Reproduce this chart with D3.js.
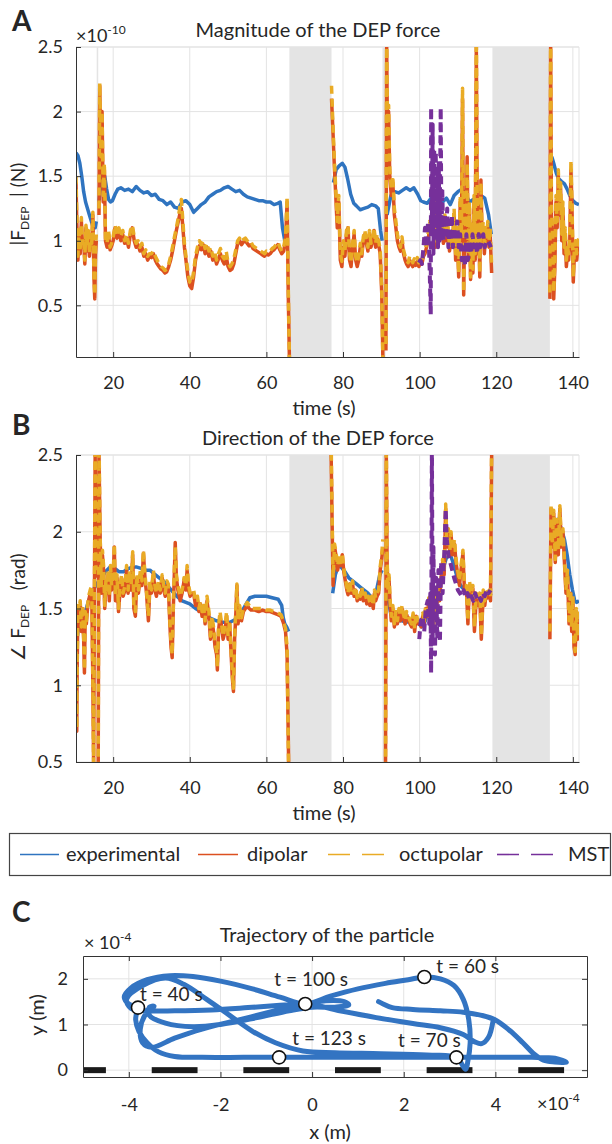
<!DOCTYPE html>
<html>
<head>
<meta charset="utf-8">
<script src="https://cdn.jsdelivr.net/npm/d3@7"></script>
<style>
  body { margin: 0; background: #fff; }
  svg text { font-family: Lato, "Open Sans", sans-serif; fill: #262626; }
</style>
</head>
<body>
<svg id="fig" width="612" height="1144"></svg>
<script>
// ---------------- data ----------------
const timeTicks = [20, 40, 60, 80, 100, 120, 140];
const magTicks = [0.5, 1, 1.5, 2, 2.5];
const dirTicks = [0.5, 1, 1.5, 2, 2.5];
// grey bands = time windows without force estimate
const bandStart = [15.7, 66, 90.3, 119];
const bandEnd = [16.1, 77, 91.1, 134];

const seriesNames = ["experimental", "dipolar", "octupolar", "MST"];
const seriesColors = ["#2f74c0", "#dc5020", "#e9ab25", "#76309a"];

// panel A, |F_DEP| in units of 1e-10 N (null = gap)
const tExpA = [10.3, 10.8, 11.3, 11.8, 12.3, 12.8, 13.3, 13.8, 14.3, 14.8,
  15.3, 15.6, 15.9, 16.3, 16.8, 17.3, 17.8, 18.3, 18.8, 19.3,
  19.8, 20.5, 21.2, 22, 23, 24, 25, 26, 27, 28,
  29, 30, 31, 32, 33, 34, 35, 36, 37, 38,
  39, 40, 41, 42, 43, 44, 45, 46, 47, 48,
  49, 50, 51, 52, 53, 54, 55, 56, 57, 58,
  59, 60, 61, 62, 63, 63.6, 64.2, 64.8, 65.5, 70,
  77.5, 78.2, 79, 79.8, 80.5, 81.2, 82, 82.8, 83.5, 84.5,
  85.5, 86.5, 87.5, 88.5, 89.2, 89.8, 90.2, 90.8, 91.5, 92.5,
  93.5, 94.5, 95.5, 96.5, 97.5, 98.5, 99.5, 100.3, 101, 102,
  103, 104, 105, 106, 107, 108, 109, 110, 111, 112,
  113, 114, 115, 116, 117, 118, 118.7, 125, 134.5, 135,
  135.7, 136.3, 137, 137.8, 138.5, 139.2, 140, 140.8, 141.6];
const expA = [1.68, 1.66, 1.6, 1.5, 1.38, 1.3, 1.25, 1.2, 1.15, 1.1,
  1.1, 1.15, null, 1.3, 1.45, 1.52, 1.5, 1.4, 1.32, 1.3,
  1.31, 1.36, 1.4, 1.41, 1.39, 1.4, 1.38, 1.42, 1.39, 1.37,
  1.38, 1.35, 1.36, 1.32, 1.31, 1.28, 1.3, 1.26, 1.25, 1.3,
  1.31, 1.28, 1.22, 1.25, 1.28, 1.3, 1.34, 1.36, 1.38, 1.39,
  1.41, 1.42, 1.4, 1.38, 1.39, 1.36, 1.34, 1.33, 1.32, 1.31,
  1.31, 1.3, 1.3, 1.28, 1.29, 1.3, 1.1, 1.0, 0.95, null,
  1.45, 1.55, 1.58, 1.6, 1.57, 1.48, 1.36, 1.29, 1.27, 1.24,
  1.25, 1.26, 1.28, 1.27, 1.25, 1.08, 1.0, null, 1.2, 1.35,
  1.38, 1.37, 1.39, 1.41, 1.39, 1.41, 1.36, 1.31, 1.3, 1.29,
  1.33, 1.38, 1.35, 1.3, 1.33, 1.28, 1.35, 1.38, 1.4, 1.36,
  1.3, 1.32, 1.26, 1.35, 1.33, 1.2, 1.05, null, 1.65, 1.6,
  1.52, 1.48, 1.46, 1.44, 1.4, 1.35, 1.31, 1.29, 1.28];

const tA = [10.3, 10.5, 10.8, 11.1, 11.4, 11.7, 12.0, 12.3, 12.6, 12.9,
  13.2, 13.5, 13.8, 14.1, 14.4, 14.7, 15.0, 15.2, 15.4, 15.6,
  15.9, 16.3, 16.5, 16.8, 17.1, 17.4, 17.7, 18.0, 18.4, 18.8,
  19.2, 19.6, 20.0, 20.5, 21.0, 21.5, 22.0, 22.5, 23.0, 23.5,
  24.0, 24.5, 25.0, 25.5, 26.0, 26.5, 27.0, 27.5, 28.0, 28.5,
  29, 29.5, 30, 30.5, 31, 31.5, 32, 32.5, 33, 33.5,
  34, 34.5, 35, 35.5, 36, 36.5, 37, 37.5, 37.8, 38.2,
  38.6, 39, 39.5, 40, 40.5, 41, 41.5, 42, 42.5, 43,
  43.5, 44, 44.5, 45, 45.5, 46, 46.5, 47, 47.5, 48,
  48.5, 49, 49.5, 50, 50.5, 51, 51.5, 52, 52.5, 53,
  53.5, 54, 54.5, 55, 55.5, 56, 56.5, 57, 57.5, 58,
  58.5, 59, 59.5, 60, 60.5, 61, 61.5, 62, 62.5, 63,
  63.5, 64, 64.5, 65, 65.4, 65.7, 66, 70, 77, 77.3,
  77.7, 78.1, 78.5, 78.9, 79.3, 79.7, 80.1, 80.5, 80.9, 81.3,
  81.7, 82.1, 82.5, 82.9, 83.3, 83.7, 84.1, 84.5, 84.9, 85.3,
  85.7, 86.1, 86.5, 86.9, 87.3, 87.7, 88.1, 88.5, 88.9, 89.3,
  89.7, 90.1, 90.4, 90.8, 91.2, 91.4, 91.6, 91.9, 92.2, 92.6,
  93, 93.4, 93.8, 94.2, 94.6, 95, 95.4, 95.8, 96.2, 96.6,
  97, 97.4, 97.8, 98.2, 98.6, 99, 99.4, 99.8, 100.2, 100.6,
  101, 101.4, 101.8, 102.2, 102.6, 103, 103.4, 103.8, 104.2, 104.6,
  105, 105.4, 105.8, 106.2, 106.6, 107, 107.4, 107.8, 108.2, 108.6,
  109, 109.4, 109.8, 110.2, 110.6, 110.9, 111.2, 111.5, 111.8, 112.1,
  112.4, 112.7, 113, 113.3, 113.6, 113.9, 114.2, 114.5, 114.8, 115.1,
  115.4, 115.7, 116, 116.3, 116.6, 116.9, 117.2, 117.5, 117.8, 118.1,
  118.4, 118.8, 125, 134, 134.2, 134.4, 134.7, 135, 135.3, 135.6,
  135.9, 136.2, 136.5, 136.8, 137.1, 137.4, 137.7, 138, 138.3, 138.6,
  138.9, 139.2, 139.5, 139.8, 140.1, 140.4, 140.7, 141, 141.3, 141.6];
const dipA = [1.45, 1.15, 0.85, 1.05, 0.9, 1.15, 0.95, 1.0, 0.82, 1.1,
  0.92, 1.05, 0.88, 1.02, 0.95, 1.2, 0.7, 0.55, 0.9, 1.0,
  null, 1.2, 2.2, 1.6, 2.0, 1.3, 1.55, 1.0, 0.95, 1.05,
  0.93, 0.96, 1.0, 1.1, 1.02, 1.08, 1.0, 1.05, 0.98, 1.02,
  0.95, 1.05, 1.1, 1.0, 0.95, 0.97, 0.92, 0.95, 0.88, 0.9,
  0.85, 0.88, 0.87, 0.9, 0.85, 0.82, 0.8, 0.78, 0.77, 0.75,
  0.76, 0.8, 0.85, 0.92, 1.0, 1.08, 1.15, 1.22, 1.25, 1.1,
  0.95, 0.85, 0.72, 0.65, 0.63, 0.72, 0.85, 0.92, 0.96, 0.93,
  0.97, 0.9, 0.95, 0.88, 0.92, 0.85, 0.88, 0.82, 0.86, 0.9,
  0.85, 0.82, 0.88, 0.8, 0.77, 0.78, 0.82, 0.9, 0.98, 1.0,
  0.97, 0.99, 1.0, 0.98, 0.96, 0.97, 0.94, 0.93, 0.92, 0.91,
  0.9, 0.89, 0.88, 0.9, 0.89, 0.9, 0.92, 0.93, 0.95, 0.97,
  0.93, 0.9, 0.92, 1.0, 1.3, 0.6, 0.1, null, 2.1, 1.9,
  1.6, 1.35, 1.1, 1.3, 0.85, 0.8, 0.95, 0.88, 1.05, 1.1,
  0.85, 0.8, 0.95, 1.05, 0.85, 0.8, 0.85, 0.95, 0.88, 1.0,
  1.05, 0.98, 0.92, 1.05, 0.95, 1.0, 1.08, 0.95, 1.02, 0.97,
  0.9, 0.6, 0.1, null, 0.15, 2.5, 1.8, 2.0, 1.5, 1.35,
  1.45, 1.2, 1.1, 1.0, 0.95, 0.92, 1.0, 0.9, 0.85, 0.82,
  0.8, 0.85, 0.82, 0.8, 0.83, 0.81, 0.84, 0.8, 0.83, 0.82,
  0.88, 0.9, 0.95, 1.0, 1.1, 1.05, 1.2, 1.0, 0.95, 1.3,
  1.2, 1.05, 1.1, 0.98, 1.15, 1.0, 1.08, 0.92, 1.0, 0.95,
  1.2, 0.85, 1.05, 0.72, 1.3, 1.0, 2.1, 0.58, 1.2, 1.0,
  1.65, 0.85, 1.25, 0.7, 1.1, 0.75, 1.3, 0.85, 2.5, 0.9,
  1.15, 0.72, 1.47, 1.0, 1.1, 0.9, 1.05, 1.0, 1.1, 0.95,
  1.05, 0.75, null, 0.55, 2.5, 1.2, 1.0, 0.55, 0.8, 1.3,
  1.1, 1.5, 1.2, 1.4, 1.0, 1.25, 0.9, 1.05, 0.8, 0.9,
  0.85, 1.0, 1.55, 1.2, 0.68, 0.9, 0.95, 0.85, 0.95, 1.0];
const octA = [1.5, 1.2, 0.88, 1.08, 0.92, 1.18, 0.98, 1.02, 0.85, 1.12,
  0.95, 1.08, 0.9, 1.05, 0.98, 1.22, 0.72, 0.58, 0.95, 1.05,
  null, 1.25, 2.22, 1.65, 2.0, 1.35, 1.6, 1.02, 0.98, 1.08,
  0.95, 0.98, 1.03, 1.12, 1.05, 1.1, 1.03, 1.08, 1.0, 1.05,
  0.98, 1.08, 1.12, 1.03, 0.98, 1.0, 0.95, 0.98, 0.9, 0.93,
  0.88, 0.9, 0.9, 0.92, 0.88, 0.85, 0.82, 0.8, 0.79, 0.77,
  0.78, 0.82, 0.88, 0.95, 1.03, 1.1, 1.18, 1.28, 1.32, 1.15,
  0.98, 0.88, 0.76, 0.68, 0.67, 0.76, 0.88, 0.95, 1.0, 0.97,
  1.0, 0.94, 0.98, 0.92, 0.95, 0.88, 0.92, 0.85, 0.9, 0.94,
  0.88, 0.86, 0.92, 0.83, 0.8, 0.82, 0.86, 0.93, 1.0, 1.02,
  0.99, 1.01, 1.02, 1.0, 0.98, 0.99, 0.96, 0.95, 0.94, 0.93,
  0.92, 0.91, 0.9, 0.92, 0.91, 0.92, 0.94, 0.95, 0.97, 0.99,
  0.95, 0.92, 0.95, 1.03, 1.34, 0.65, 0.1, null, 2.2, 1.95,
  1.65, 1.4, 1.15, 1.35, 0.9, 0.84, 1.0, 0.92, 1.08, 1.12,
  0.9, 0.83, 0.98, 1.08, 0.88, 0.83, 0.88, 0.98, 0.9, 1.03,
  1.08, 1.0, 0.95, 1.08, 0.98, 1.03, 1.1, 0.98, 1.05, 1.0,
  0.93, 0.65, 0.1, null, 0.2, 2.6, 1.85, 2.05, 1.55, 1.4,
  1.5, 1.25, 1.15, 1.05, 0.98, 0.95, 1.03, 0.93, 0.88, 0.85,
  0.83, 0.88, 0.85, 0.83, 0.86, 0.84, 0.87, 0.83, 0.86, 0.85,
  0.9, 0.93, 0.98, 1.05, 1.15, 1.1, 1.25, 1.05, 1.0, 1.35,
  1.25, 1.1, 1.15, 1.02, 1.2, 1.05, 1.12, 0.95, 1.05, 1.0,
  1.25, 0.9, 1.1, 0.75, 1.35, 1.05, 2.18, 0.6, 1.25, 1.05,
  1.6, 0.9, 1.3, 0.72, 1.15, 0.78, 1.35, 0.9, 2.6, 0.95,
  1.2, 0.75, 1.45, 1.05, 1.15, 0.93, 1.1, 1.03, 1.15, 1.0,
  1.1, 0.8, null, 0.6, 2.6, 1.25, 1.05, 0.6, 0.85, 1.35,
  1.15, 1.55, 1.25, 1.45, 1.05, 1.3, 0.95, 1.1, 0.85, 0.95,
  0.9, 1.05, 1.62, 1.25, 0.72, 0.95, 1.0, 0.9, 1.0, 1.02];

const tMstA = [99.8, 100.2, 100.6, 101, 101.4, 101.8, 102.2, 102.6, 102.9, 103.0,
  103.2, 103.4, 103.6, 103.8, 104.0, 104.2, 104.4, 104.6, 104.8, 105.0,
  105.2, 105.5, 105.7, 105.9, 106.2, 106.6, 106.9, 107.2, 107.5, 107.8,
  108.1, 108.4, 108.7, 109, 109.4, 109.8, 110.2, 110.6, 111, 111.4,
  111.8, 112.2, 112.6, 113, 113.4, 113.8, 114.2, 114.6, 115, 115.4,
  115.8, 116.2, 116.6, 117, 117.4, 117.8, 118.2, 118.6];
const mstA = [0.83, 0.85, 0.82, 0.95, 1.1, 0.95, 1.15, 0.8, 0.43, 2.03,
  1.1, 1.9, 0.9, 1.7, 1.0, 1.69, 1.1, 1.5, 0.95, 1.6,
  1.0, 2.03, 1.0, 1.4, 1.0, 1.2, 1.05, 1.25, 0.95, 1.15,
  1.0, 1.2, 0.95, 1.1, 1.0, 1.15, 0.95, 1.05, 0.85, 0.95,
  0.8, 1.05, 0.85, 1.0, 0.9, 1.05, 0.95, 1.0, 0.9, 1.05,
  0.95, 1.0, 1.05, 0.95, 1.0, 1.0, 0.98, 0.95];

// panel B, direction of F_DEP in rad
const tExpB = [10.3, 10.7, 11.2, 11.8, 12.5, 13.2, 14, 15, 16, 17,
  18, 19.2, 20.5, 21.5, 22.7, 24, 25, 26.2, 27.5, 28.5,
  29.6, 31, 32, 33.1, 34.5, 35.5, 36.6, 38, 40, 41.5,
  43.5, 45, 47, 48.5, 50.5, 52, 53.1, 54.5, 55.7, 57,
  58.5, 60, 61.5, 63.1, 64, 64.4, 64.8, 65.3, 65.8, 70,
  77.3, 78, 78.8, 79.5, 80.5, 81.5, 82.5, 83.5, 84.5, 85.5,
  86.5, 87.5, 88.3, 89, 89.6, 90.2, 90.8, 91.5, 92.5, 93.5,
  94.5, 95.5, 96.5, 97.5, 98.5, 99.5, 100.5, 101.5, 102.5, 103.3,
  104, 104.6, 105.3, 106, 107, 108, 109, 110, 111, 112,
  113, 114, 115, 116, 117, 118, 118.7, 125, 134.3, 135,
  136, 137, 137.8, 138.5, 139.2, 139.9, 140.5, 141, 141.6];
const expB = [1.25, 1.33, 1.42, 1.47, 1.45, 1.52, 1.58, 1.63, 1.67, 1.7,
  1.74, 1.77, 1.76, 1.74, 1.74, 1.76, 1.77, 1.77, 1.76, 1.75,
  1.75, 1.72, 1.7, 1.68, 1.64, 1.61, 1.58, 1.55, 1.53, 1.5,
  1.47, 1.44, 1.42, 1.41, 1.41, 1.43, 1.46, 1.52, 1.57, 1.58,
  1.58, 1.58, 1.57, 1.56, 1.52, 1.44, 1.4, 1.38, 1.35, null,
  1.6, 1.72, 1.78, 1.77, 1.74, 1.7, 1.68, 1.66, 1.64, 1.62,
  1.6, 1.57, 1.56, 1.65, 1.72, 1.75, null, 1.6, 1.46, 1.43,
  1.42, 1.42, 1.41, 1.42, 1.42, 1.41, 1.38, 1.42, 1.52, 1.62,
  1.58, 1.55, 1.65, 1.75, 1.83, 1.85, 1.78, 1.68, 1.64, 1.62,
  1.6, 1.58, 1.56, 1.55, 1.56, 1.58, 1.6, null, 1.95, 2.05,
  2.08, 2.02, 1.95, 1.85, 1.72, 1.62, 1.55, 1.54, 1.55];

const tB = [10.3, 10.4, 10.5, 10.6, 10.8, 11.1, 11.4, 11.7, 12.0, 12.3,
  12.5, 12.7, 13.0, 13.3, 13.6, 14.0, 14.4, 14.7, 14.9, 15.1,
  15.3, 15.5, 15.8, 16.1, 16.3, 16.6, 16.9, 17.2, 17.5, 17.8,
  18.1, 18.4, 18.7, 19.0, 19.3, 19.6, 20.0, 20.3, 20.6, 21.0,
  21.4, 21.8, 22.2, 22.6, 23.1, 23.5, 23.9, 24.3, 24.7, 25.1,
  25.4, 25.8, 26.2, 26.6, 27.1, 27.5, 27.9, 28.3, 28.7, 29.2,
  29.6, 30.0, 30.5, 30.9, 31.3, 31.8, 32.3, 32.8, 33.2, 33.6,
  34.0, 34.4, 34.8, 35.1, 35.4, 35.7, 36.0, 36.2, 36.5, 36.9,
  37.5, 38.0, 38.5, 39.0, 39.3, 39.7, 40.1, 40.5, 41.0, 41.5,
  42.0, 42.4, 42.8, 43.2, 43.6, 44.0, 44.5, 45.0, 45.4, 45.8,
  46.2, 46.6, 47.0, 47.2, 47.5, 47.9, 48.3, 48.7, 49.2, 49.6,
  50.0, 50.4, 50.8, 51.1, 51.4, 51.7, 52.0, 52.3, 52.6, 53.0,
  53.5, 54.0, 54.5, 55.0, 55.5, 56.0, 57.0, 58.0, 59.0, 60.0,
  61.0, 62.0, 63.0, 63.8, 64.4, 65.0, 65.4, 65.8, 70, 76.9,
  77.1, 77.4, 77.8, 78.2, 78.6, 79.0, 79.4, 79.8, 80.2, 80.6,
  81.0, 81.3, 81.7, 82.1, 82.5, 82.9, 83.3, 83.7, 84.1, 84.5,
  84.9, 85.3, 85.8, 86.2, 86.6, 87.0, 87.5, 87.9, 88.2, 88.5,
  88.9, 89.3, 89.7, 90.1, 90.4, 90.8, 91.1, 91.3, 91.5, 91.7,
  92.0, 92.3, 92.6, 93.0, 93.4, 93.8, 94.2, 94.6, 95.0, 95.4,
  95.8, 96.2, 96.6, 97.0, 97.5, 97.9, 98.3, 98.7, 99.1, 99.5,
  100.0, 100.4, 100.8, 101.2, 101.6, 102.0, 102.4, 102.8, 103.2, 103.6,
  104.0, 104.4, 104.8, 105.2, 105.6, 106.0, 106.4, 106.8, 107.1, 107.5,
  107.9, 108.2, 108.6, 109.1, 109.5, 110.0, 110.4, 110.8, 111.3, 111.7,
  112.2, 112.6, 113.0, 113.5, 113.9, 114.3, 114.8, 115.2, 115.7, 116.1,
  116.6, 117.0, 117.4, 117.8, 118.2, 118.5, 118.8, 125, 134.0, 134.3,
  134.6, 135.0, 135.4, 135.8, 136.2, 136.6, 137.0, 137.4, 137.8, 138.2,
  138.6, 139.0, 139.4, 139.7, 140.0, 140.3, 140.6, 140.9, 141.2, 141.6];
const dipB = [1.2, 0.95, 0.7, 1.1, 1.5, 1.48, 1.52, 1.35, 1.5, 1.3,
  1.08, 1.45, 1.4, 1.5, 1.55, 1.6, 1.62, 1.0, 0.5, 1.5,
  2.5, 1.7, null, 0.5, 2.5, 1.97, 1.6, 1.85, 1.75, 1.5,
  1.65, 1.6, 1.72, 1.55, 1.75, 1.62, 1.7, 1.9, 1.55, 1.7,
  1.48, 1.62, 1.7, 1.58, 1.62, 1.75, 1.6, 1.72, 1.62, 1.85,
  1.5, 1.45, 1.7, 1.6, 1.72, 1.65, 1.86, 1.7, 1.6, 1.42,
  1.65, 1.6, 1.73, 1.62, 1.58, 1.66, 1.6, 1.7, 1.62, 1.58,
  1.65, 1.64, 1.4, 1.25, 1.18, 1.5, 1.75, 1.93, 1.7, 1.62,
  1.55, 1.6, 1.68, 1.62, 1.75, 1.62, 1.58, 1.6, 1.6, 1.52,
  1.55, 1.48, 1.53, 1.45, 1.5, 1.4, 1.55, 1.45, 1.3, 1.42,
  1.35, 1.25, 1.2, 1.1, 1.35, 1.45, 1.38, 1.3, 1.35, 1.45,
  1.3, 1.4, 1.2, 1.05, 0.96, 1.3, 1.45, 1.65, 1.4, 1.5,
  1.42, 1.48, 1.5, 1.52, 1.5, 1.49, 1.49, 1.48, 1.49, 1.48,
  1.48, 1.47, 1.46, 1.45, 1.41, 1.35, 1.2, 0.5, null, 2.5,
  2.15, 1.65, 1.9, 1.84, 1.75, 1.82, 1.78, 1.85, 1.74, 1.68,
  1.62, 1.59, 1.66, 1.6, 1.66, 1.58, 1.62, 1.55, 1.58, 1.56,
  1.62, 1.55, 1.59, 1.53, 1.56, 1.52, 1.56, 1.5, 1.6, 1.55,
  1.58, 1.6, 1.75, 1.82, 1.9, null, 0.5, 2.5, 1.82, 1.6,
  1.7, 1.52, 1.42, 1.5, 1.38, 1.45, 1.4, 1.48, 1.42, 1.5,
  1.44, 1.4, 1.46, 1.43, 1.4, 1.38, 1.45, 1.35, 1.45, 1.4,
  1.42, 1.38, 1.45, 1.4, 1.5, 1.45, 1.55, 1.4, 1.52, 1.35,
  1.6, 1.5, 1.62, 1.55, 1.7, 1.8, 1.72, 2.15, 1.9, 2.0,
  1.85, 1.98, 1.85, 1.92, 1.8, 1.71, 1.65, 1.75, 1.86, 1.62,
  1.63, 1.4, 1.65, 1.58, 1.63, 1.35, 1.58, 1.52, 1.57, 1.3,
  1.6, 1.52, 1.6, 1.57, 1.6, 1.55, 2.5, null, 1.3, 2.15,
  1.9, 2.12, 1.8, 2.05, 1.85, 2.15, 1.9, 2.0, 1.8, 1.6,
  1.72, 1.4, 1.6, 1.35, 1.55, 1.25, 1.2, 1.48, 1.3, 1.45];
const octB = [1.22, 0.98, 0.72, 1.15, 1.52, 1.5, 1.55, 1.38, 1.52, 1.32,
  1.1, 1.48, 1.42, 1.52, 1.58, 1.62, 1.65, 1.05, 0.45, 1.55,
  2.6, 1.75, null, 0.45, 2.6, 1.97, 1.65, 1.88, 1.78, 1.52,
  1.68, 1.62, 1.75, 1.58, 1.78, 1.65, 1.72, 1.92, 1.58, 1.72,
  1.5, 1.65, 1.72, 1.6, 1.65, 1.78, 1.62, 1.75, 1.65, 1.87,
  1.52, 1.48, 1.72, 1.62, 1.75, 1.68, 1.88, 1.72, 1.62, 1.45,
  1.68, 1.62, 1.75, 1.65, 1.6, 1.68, 1.62, 1.72, 1.65, 1.6,
  1.68, 1.66, 1.42, 1.28, 1.2, 1.52, 1.78, 1.9, 1.72, 1.65,
  1.58, 1.62, 1.7, 1.65, 1.78, 1.65, 1.6, 1.62, 1.62, 1.55,
  1.58, 1.5, 1.55, 1.48, 1.52, 1.42, 1.58, 1.48, 1.32, 1.45,
  1.38, 1.28, 1.22, 1.12, 1.38, 1.48, 1.4, 1.32, 1.38, 1.48,
  1.32, 1.42, 1.22, 1.08, 0.98, 1.32, 1.48, 1.66, 1.42, 1.52,
  1.44, 1.5, 1.52, 1.54, 1.52, 1.5, 1.5, 1.5, 1.5, 1.49,
  1.49, 1.48, 1.47, 1.46, 1.42, 1.37, 1.25, 0.45, null, 2.6,
  2.2, 1.7, 1.92, 1.86, 1.78, 1.84, 1.8, 1.86, 1.76, 1.7,
  1.64, 1.6, 1.68, 1.62, 1.68, 1.6, 1.64, 1.57, 1.6, 1.58,
  1.64, 1.57, 1.6, 1.55, 1.58, 1.54, 1.58, 1.52, 1.62, 1.57,
  1.6, 1.62, 1.77, 1.85, 1.95, null, 0.45, 2.6, 1.85, 1.62,
  1.72, 1.55, 1.45, 1.52, 1.4, 1.48, 1.42, 1.5, 1.45, 1.52,
  1.46, 1.42, 1.48, 1.45, 1.42, 1.4, 1.47, 1.37, 1.47, 1.42,
  1.44, 1.4, 1.47, 1.42, 1.52, 1.47, 1.57, 1.42, 1.55, 1.38,
  1.62, 1.52, 1.65, 1.58, 1.72, 1.82, 1.75, 2.18, 1.92, 2.02,
  1.88, 2.0, 1.88, 1.95, 1.82, 1.74, 1.68, 1.78, 1.88, 1.65,
  1.65, 1.42, 1.68, 1.6, 1.65, 1.38, 1.6, 1.55, 1.6, 1.32,
  1.62, 1.55, 1.62, 1.6, 1.62, 1.58, 2.6, null, 1.35, 2.18,
  1.92, 2.14, 1.82, 2.08, 1.88, 2.17, 1.92, 2.02, 1.82, 1.62,
  1.75, 1.42, 1.62, 1.38, 1.58, 1.28, 1.22, 1.5, 1.32, 1.48];

const tMstB = [99.9, 100.3, 100.8, 101.2, 101.6, 102.1, 102.5, 102.8, 103.0, 103.2,
  103.4, 103.6, 103.8, 104.0, 104.3, 104.6, 104.9, 105.3, 105.6, 106.0,
  106.5, 106.8, 107.1, 107.5, 108.0, 108.5, 109.0, 109.5, 110.0, 110.5,
  111.0, 111.5, 112.0, 112.5, 113.0, 113.5, 114.0, 114.5, 115.0, 115.5,
  116.0, 116.5, 117.0, 117.5, 118.0, 118.5];
const mstB = [1.3, 1.42, 1.45, 1.35, 1.5, 1.55, 1.4, 1.6, 1.08, 2.6,
  1.3, 1.9, 1.5, 1.2, 1.7, 1.3, 1.75, 1.28, 1.8, 1.6,
  1.9, 2.15, 1.95, 1.85, 1.8, 1.75, 1.7, 1.66, 1.62, 1.6,
  1.58, 1.62, 1.57, 1.6, 1.55, 1.58, 1.55, 1.6, 1.56, 1.58,
  1.55, 1.6, 1.58, 1.62, 1.6, 1.62];

// panel C, particle trajectory in units of 1e-4 m
const posTicksX = [-4, -2, 0, 2, 4];
const posTicksY = [0, 1, 2];
const trajX = [1.45, 1.55, 1.75, 2.2, 2.8, 3.3, 3.7, 4.0, 4.3, 4.6,
  4.85, 5.05, 5.3, 5.55, 5.3, 4.8, 4.2, 3.6, 2.5, 1.5,
  0.5, -0.72, -1.5, -2.4, -3.0, -3.35, -3.6, -3.78, -3.85, -3.82,
  -3.8, -4.0, -4.1, -3.95, -3.6, -3.1, -2.6, -2.0, -1.3, -0.7,
  -0.15, 0.4, 1.0, 1.6, 2.1, 2.45, 2.8, 3.1, 3.3, 3.42,
  3.45, 3.4, 3.35, 3.15, 2.5, 1.5, 0.5, -0.2, -0.8, -1.3,
  -1.8, -2.3, -2.8, -3.2, -3.7, -4.05, -3.95, -3.6, -3.0, -2.2,
  -1.4, -0.7, -0.15, 0.3, 0.7, 0.8, 0.5, 0.0, -0.5, -1.2,
  -2.0, -2.6, -3.2, -3.55, -3.55, -3.45, -3.65, -3.75, -3.7, -3.5,
  -3.0, -2.4, -1.6, -0.8, -0.15, 0.6, 1.4, 2.2, 2.8, 3.3,
  3.55, 3.7, 3.85, 3.95];
const trajY = [1.5, 1.45, 1.37, 1.33, 1.3, 1.27, 1.2, 1.1, 0.88, 0.6,
  0.35, 0.22, 0.18, 0.17, 0.26, 0.28, 0.28, 0.28, 0.28, 0.28,
  0.28, 0.28, 0.28, 0.28, 0.3, 0.4, 0.6, 0.85, 1.1, 1.3,
  1.37, 1.45, 1.6, 1.8, 1.98, 2.07, 2.05, 1.95, 1.78, 1.6,
  1.45, 1.62, 1.78, 1.9, 1.98, 2.04, 2.0, 1.85, 1.55, 1.1,
  0.6, 0.2, 0.02, 0.28, 0.33, 0.36, 0.38, 0.42, 0.6, 0.85,
  1.2, 1.55, 1.88, 2.02, 1.85, 1.55, 1.35, 1.3, 1.3, 1.32,
  1.37, 1.42, 1.45, 1.52, 1.5, 1.43, 1.38, 1.38, 1.3, 1.15,
  1.0, 0.95, 1.03, 1.2, 1.38, 1.4, 1.2, 0.9, 0.6, 0.5,
  0.7, 0.9, 1.1, 1.3, 1.45, 1.3, 1.15, 1.02, 0.93, 0.78,
  0.62, 0.58, 0.72, 1.08];
const markLabels = ["t = 40 s", "t = 60 s", "t = 70 s", "t = 100 s", "t = 123 s"];
const markX = [-3.8, 2.45, 3.15, -0.15, -0.72];
const markY = [1.37, 2.04, 0.28, 1.45, 0.28];
const electrodeX = [-5, -3, -1, 1, 3, 5];
const electrodeW = 1;

// ---------------- drawing ----------------
const svg = d3.select("#fig");
const axisColor = "#333333";
const gridColor = "#e3e3e3";

function styleAxis(g, size) {
  g.select(".domain").attr("stroke", axisColor);
  g.selectAll(".tick line").attr("stroke", axisColor);
  g.selectAll(".tick text").attr("font-size", size).attr("fill", "#262626");
}

function timePanel(cfg) {
  const left = 76, right = 579;
  const x = d3.scaleLinear().domain([10.3, 141.6]).range([left, right]);
  const y = d3.scaleLinear().domain(cfg.yDomain).range([cfg.bottom, cfg.top]);
  const g = svg.append("g");

  g.append("clipPath").attr("id", "clip" + cfg.id).append("rect")
    .attr("x", left).attr("y", cfg.top)
    .attr("width", right - left).attr("height", cfg.bottom - cfg.top);

  g.selectAll(".gx").data(timeTicks).enter().append("line")
    .attr("x1", d => x(d)).attr("x2", d => x(d))
    .attr("y1", cfg.top).attr("y2", cfg.bottom)
    .attr("stroke", gridColor);
  g.selectAll(".gy").data(cfg.yTicks).enter().append("line")
    .attr("x1", left).attr("x2", right)
    .attr("y1", d => y(d)).attr("y2", d => y(d))
    .attr("stroke", gridColor);
  g.append("line").attr("x1", right).attr("x2", right)
    .attr("y1", cfg.top).attr("y2", cfg.bottom).attr("stroke", gridColor);
  g.append("line").attr("x1", left).attr("x2", right)
    .attr("y1", cfg.top).attr("y2", cfg.top).attr("stroke", gridColor);

  g.selectAll(".band").data(d3.range(bandStart.length)).enter().append("rect")
    .attr("x", i => x(bandStart[i]))
    .attr("width", i => x(bandEnd[i]) - x(bandStart[i]))
    .attr("y", cfg.top).attr("height", cfg.bottom - cfg.top)
    .attr("fill", "#e4e4e4");

  const plot = g.append("g").attr("clip-path", "url(#clip" + cfg.id + ")");
  const line = d3.line()
    .defined(d => d[1] !== null)
    .x(d => x(d[0])).y(d => y(d[1]));
  cfg.series.forEach(s => {
    const pts = s.t.map((t, i) => [t, s.v[i]]);
    plot.append("path").datum(pts)
      .attr("d", line)
      .attr("fill", "none")
      .attr("stroke", s.color)
      .attr("stroke-width", s.width)
      .attr("stroke-linejoin", "round")
      .attr("stroke-dasharray", s.dash || null);
  });

  const ax = g.append("g").attr("transform", `translate(0,${cfg.bottom})`)
    .call(d3.axisBottom(x).tickValues(timeTicks).tickSize(-5)
      .tickSizeOuter(0).tickPadding(19));
  styleAxis(ax, 18);
  const ay = g.append("g").attr("transform", `translate(${left},0)`)
    .call(d3.axisLeft(y).tickValues(cfg.yTicks).tickSize(-5)
      .tickSizeOuter(0).tickPadding(13).tickFormat(d => String(d)));
  styleAxis(ay, 18);

  g.append("text").attr("x", 318).attr("y", cfg.top - 10)
    .attr("text-anchor", "middle").attr("font-size", 20).text(cfg.title);
  g.append("text").attr("x", 324).attr("y", cfg.bottom + 58)
    .attr("text-anchor", "middle").attr("font-size", 20).text("time (s)");
  g.append("text").attr("x", 12).attr("y", cfg.letterY)
    .attr("font-size", 28).attr("font-weight", "bold").text(cfg.letter);

  const yl = g.append("text")
    .attr("transform", `translate(25,${cfg.labelY}) rotate(-90)`)
    .attr("text-anchor", "middle").attr("font-size", 19)
    .style("white-space", "pre");
  yl.append("tspan").text(cfg.labelPre);
  yl.append("tspan").attr("font-size", 12).attr("dy", 4).text("DEP");
  yl.append("tspan").attr("dy", -4).text(cfg.labelPost);
  return { x, y };
}

// Panel A
timePanel({
  id: "A", top: 47, bottom: 357, yDomain: [0.1, 2.5], yTicks: magTicks,
  title: "Magnitude of the DEP force", letter: "A", letterY: 31,
  labelY: 204, labelPre: "|F", labelPost: "  | (N)",
  series: [
    { t: tExpA, v: expA, color: seriesColors[0], width: 3.5 },
    { t: tA, v: dipA, color: seriesColors[1], width: 3.5 },
    { t: tA, v: octA, color: seriesColors[2], width: 3.5, dash: "8,5" },
    { t: tMstA, v: mstA, color: seriesColors[3], width: 4, dash: "8,5" }
  ]
});
const expo = svg.append("text").attr("x", 76).attr("y", 42).attr("font-size", 18);
expo.append("tspan").text("\u00d710");
expo.append("tspan").attr("font-size", 12).attr("dy", -8).text("-10");

// Panel B
timePanel({
  id: "B", top: 455, bottom: 762, yDomain: [0.5, 2.5], yTicks: dirTicks,
  title: "Direction of the DEP force", letter: "B", letterY: 435,
  labelY: 607, labelPre: "\u2220 F", labelPost: "   (rad)",
  series: [
    { t: tExpB, v: expB, color: seriesColors[0], width: 3.5 },
    { t: tB, v: dipB, color: seriesColors[1], width: 3.5 },
    { t: tB, v: octB, color: seriesColors[2], width: 3.5, dash: "8,5" },
    { t: tMstB, v: mstB, color: seriesColors[3], width: 4, dash: "8,5" }
  ]
});

// Legend
const legX = [20, 198, 328, 497];
const legLen = [39, 40, 56, 56];
const legText = [66, 247, 399, 568];
const leg = svg.append("g");
leg.append("rect").attr("x", 9.5).attr("y", 833.5).attr("width", 601).attr("height", 42)
  .attr("fill", "#fff").attr("stroke", "#444").attr("stroke-width", 1.2);
seriesNames.forEach((name, i) => {
  leg.append("line")
    .attr("x1", legX[i]).attr("x2", legX[i] + legLen[i])
    .attr("y1", 854.5).attr("y2", 854.5)
    .attr("stroke", seriesColors[i]).attr("stroke-width", 1.6)
    .attr("stroke-dasharray", i >= 2 ? "22,12" : null);
  leg.append("text").attr("x", legText[i]).attr("y", 861)
    .attr("font-size", 20).text(name);
});

// Panel C: trajectory
(function () {
  const left = 83, right = 587, top = 956, bottom = 1077;
  const x = d3.scaleLinear().domain([-5, 6]).range([left, right]);
  const y = d3.scaleLinear().domain([-0.15, 2.5]).range([bottom, top]);
  const g = svg.append("g");

  g.append("clipPath").attr("id", "clipC").append("rect")
    .attr("x", left).attr("y", top).attr("width", right - left).attr("height", bottom - top);

  g.selectAll(".gx").data(posTicksX).enter().append("line")
    .attr("x1", d => x(d)).attr("x2", d => x(d)).attr("y1", top).attr("y2", bottom)
    .attr("stroke", gridColor);
  g.selectAll(".gy").data(posTicksY).enter().append("line")
    .attr("x1", left).attr("x2", right).attr("y1", d => y(d)).attr("y2", d => y(d))
    .attr("stroke", gridColor);

  const plot = g.append("g").attr("clip-path", "url(#clipC)");
  plot.selectAll(".el").data(electrodeX).enter().append("rect")
    .attr("x", d => x(d - electrodeW / 2))
    .attr("width", d => x(d + electrodeW / 2) - x(d - electrodeW / 2))
    .attr("y", y(0) - 3).attr("height", 6)
    .attr("fill", "#1a1a1a");

  const pts = trajX.map((v, i) => [v, trajY[i]]);
  plot.append("path").datum(pts)
    .attr("d", d3.line().curve(d3.curveCatmullRom.alpha(0.5))
      .x(d => x(d[0])).y(d => y(d[1])))
    .attr("fill", "none").attr("stroke", "#3374c2")
    .attr("stroke-width", 5).attr("stroke-linejoin", "round").attr("stroke-linecap", "round");

  plot.selectAll(".mk").data(markX).enter().append("circle")
    .attr("cx", d => x(d)).attr("cy", (d, i) => y(markY[i])).attr("r", 6.5)
    .attr("fill", "#fff").attr("stroke", "#111").attr("stroke-width", 1.6);

  // label offsets (px) relative to each marker
  const ldx = [2, 12, -27, 6, 50];
  const ldy = [-7, -4, -10, -18, -12];
  const lanchor = ["start", "start", "middle", "middle", "middle"];
  g.selectAll(".ml").data(markLabels).enter().append("text")
    .attr("x", (d, i) => x(markX[i]) + ldx[i])
    .attr("y", (d, i) => y(markY[i]) + ldy[i])
    .attr("text-anchor", (d, i) => lanchor[i])
    .attr("font-size", 19).text(d => d);

  const ax = g.append("g").attr("transform", `translate(0,${bottom})`)
    .call(d3.axisBottom(x).tickValues(posTicksX).tickSize(-5).tickSizeOuter(0)
      .tickPadding(21).tickFormat(d => String(d)));
  styleAxis(ax, 18);
  const ay = g.append("g").attr("transform", `translate(${left},0)`)
    .call(d3.axisLeft(y).tickValues(posTicksY).tickSize(-5).tickSizeOuter(0)
      .tickPadding(15).tickFormat(d => String(d)));
  styleAxis(ay, 18);
  // top / right ticks and box
  g.append("g").attr("transform", `translate(0,${top})`)
    .call(d3.axisTop(x).tickValues(posTicksX).tickSize(-5).tickSizeOuter(0).tickFormat(""))
    .call(s => styleAxis(s, 18));
  g.append("g").attr("transform", `translate(${right},0)`)
    .call(d3.axisRight(y).tickValues(posTicksY).tickSize(-5).tickSizeOuter(0).tickFormat(""))
    .call(s => styleAxis(s, 18));

  g.append("text").attr("x", 327).attr("y", 942).attr("text-anchor", "middle")
    .attr("font-size", 20).text("Trajectory of the particle");
  g.append("text").attr("x", 12).attr("y", 922)
    .attr("font-size", 28).attr("font-weight", "bold").text("C");
  g.append("text").attr("x", 330).attr("y", 1139).attr("text-anchor", "middle")
    .attr("font-size", 20).text("x (m)");
  g.append("text").attr("transform", "translate(44,1015) rotate(-90)")
    .attr("text-anchor", "middle").attr("font-size", 20).text("y (m)");

  const ey = g.append("text").attr("x", 84).attr("y", 949).attr("font-size", 18)
    .style("white-space", "pre");
  ey.append("tspan").text("\u00d7 10");
  ey.append("tspan").attr("font-size", 12).attr("dy", -8).text("-4");
  const ex = g.append("text").attr("x", 537).attr("y", 1110).attr("font-size", 18);
  ex.append("tspan").text("\u00d710");
  ex.append("tspan").attr("font-size", 12).attr("dy", -8).text("-4");
})();
</script>
</body>
</html>
